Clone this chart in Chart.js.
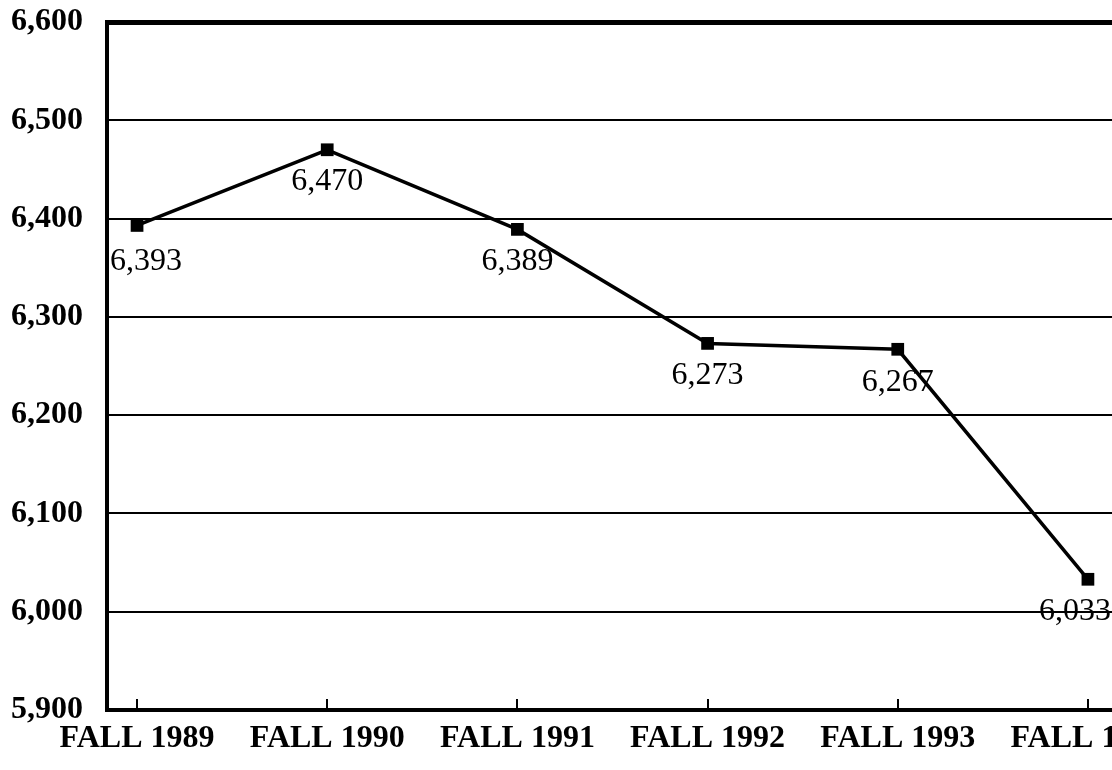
<!DOCTYPE html>
<html>
<head>
<meta charset="utf-8">
<script src="https://cdn.jsdelivr.net/npm/chart.js@4/dist/chart.umd.min.js"></script>
<style>
  html, body { margin: 0; padding: 0; background: #fff; overflow: hidden; }
  #wrap { width: 1112px; height: 770px; overflow: hidden; }
</style>
</head>
<body>
<div id="wrap">
  <canvas id="enrollment-chart" width="1200" height="770"></canvas>
</div>
<script>
// Fall headcount
const terms = ['FALL 1989', 'FALL 1990', 'FALL 1991', 'FALL 1992', 'FALL 1993', 'FALL 1994'];
const headcount = [6393, 6470, 6389, 6273, 6267, 6033];
const yTicks = [5900, 6000, 6100, 6200, 6300, 6400, 6500, 6600];

// where each value label sits relative to its point (px)
const labelShift = [[9, 36], [0, 32], [0, 32], [0, 32], [0, 33], [-13, 32]];

const serif = '"Liberation Serif", "Times New Roman", serif';

// value labels under the points + little tick marks on the x axis
const extras = {
  id: 'extras',
  afterDatasetsDraw(chart) {
    const ctx = chart.ctx;
    const x = chart.scales.x, y = chart.scales.y;
    ctx.save();
    ctx.strokeStyle = '#000';
    ctx.lineWidth = 2;
    terms.forEach((t, i) => {
      const px = Math.round(x.getPixelForValue(i));
      ctx.beginPath();
      ctx.moveTo(px, y.bottom);
      ctx.lineTo(px, y.bottom - 11);
      ctx.stroke();
    });
    ctx.fillStyle = '#000';
    ctx.font = '32px ' + serif;
    ctx.textAlign = 'center';
    ctx.textBaseline = 'middle';
    headcount.forEach((v, i) => {
      const px = x.getPixelForValue(i) + labelShift[i][0];
      const py = y.getPixelForValue(v) + labelShift[i][1];
      ctx.fillText(v.toLocaleString('en-US'), px, py);
    });
    ctx.restore();
  }
};

new Chart(document.getElementById('enrollment-chart').getContext('2d'), {
  type: 'line',
  data: {
    datasets: [{
      label: 'Headcount',
      data: headcount.map((v, i) => ({ x: i, y: v })),
      borderColor: '#000',
      backgroundColor: '#000',
      borderWidth: 3.5,
      pointStyle: 'rect',
      pointRadius: 9,
      pointBorderWidth: 0,
      tension: 0
    }]
  },
  options: {
    responsive: false,
    animation: false,
    devicePixelRatio: 1,
    layout: { padding: { top: 22, left: 0, right: 0, bottom: 0 } },
    plugins: { legend: { display: false }, tooltip: { enabled: false } },
    scales: {
      x: {
        type: 'linear',
        min: -0.158,
        max: 5.542,
        afterBuildTicks: s => { s.ticks = terms.map((t, i) => ({ value: i })); },
        afterFit: s => { s.height = 60; },
        grid: { display: false, drawTicks: false },
        border: { display: true, color: '#000', width: 4 },
        ticks: {
          color: '#000',
          padding: 10,
          maxRotation: 0,
          autoSkip: false,
          font: { family: serif, size: 32, weight: 'bold' },
          callback: v => terms[v]
        }
      },
      y: {
        min: yTicks[0],
        max: yTicks[yTicks.length - 1],
        afterBuildTicks: s => { s.ticks = yTicks.map(v => ({ value: v })); },
        afterFit: s => { s.width = 107; s.paddingTop = 0; s.paddingBottom = 0; },
        grid: {
          color: '#000',
          drawTicks: false,
          lineWidth: c => (c.tick && c.tick.value === 6600 ? 5 : 2)
        },
        border: { display: true, color: '#000', width: 4 },
        ticks: {
          color: '#000',
          padding: 24,
          font: { family: serif, size: 32, weight: 'bold' },
          callback: v => v.toLocaleString('en-US')
        }
      }
    }
  },
  plugins: [extras]
});
</script>
</body>
</html>
